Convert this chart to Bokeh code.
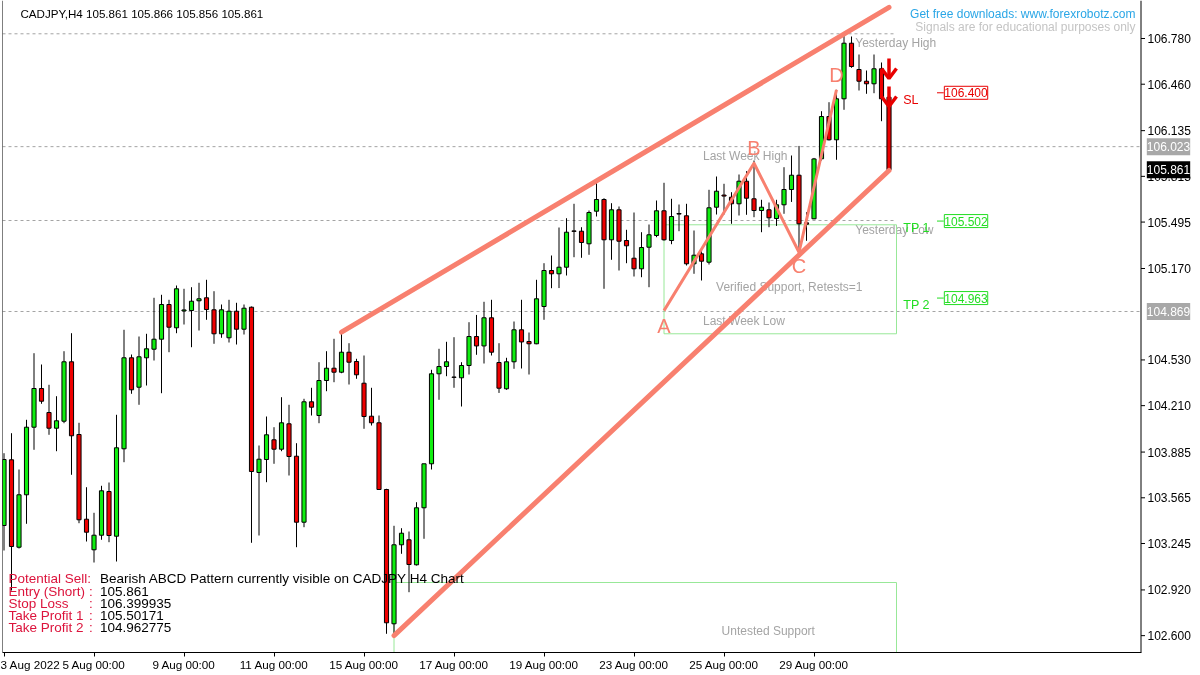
from bokeh.plotting import figure
from bokeh.models import Range1d, LinearAxis, FixedTicker, Label, Span
from bokeh.core.properties import value
from bokeh.embed import file_html
from bokeh.resources import INLINE

# ---------------- data ----------------
opens = [103.371, 103.831, 103.219, 103.586, 104.059, 104.330, 104.162, 104.052, 104.101, 104.517,
         104.008, 103.415, 103.201, 103.303, 103.609, 103.296, 103.908, 104.545, 104.339, 104.545,
         104.605, 104.675, 104.918, 104.755, 104.873, 104.876, 104.944, 104.965, 104.881, 104.713,
         104.685, 104.871, 104.745, 104.899, 103.742, 103.833, 103.971, 103.905, 104.083, 103.856,
         103.394, 104.237, 104.141, 104.386, 104.472, 104.444, 104.584, 104.519, 104.367, 104.136,
         104.090, 103.623, 102.683, 103.236, 103.271, 103.096, 103.495, 103.803, 104.433, 104.484,
         104.410, 104.405, 104.491, 104.694, 104.628, 104.825, 104.512, 104.328, 104.517, 104.741,
         104.659, 104.643, 104.904, 105.156, 105.133, 105.179, 105.433, 105.431, 105.343, 105.571,
         105.653, 105.371, 105.581, 105.366, 105.242, 105.168, 105.319, 105.401, 105.574, 105.366,
         105.555, 105.539, 105.203, 105.273, 105.214, 105.599, 105.684, 105.669, 105.623, 105.781,
         105.658, 105.576, 105.581, 105.520, 105.616, 105.723, 105.823, 105.490, 105.518, 105.938,
         106.234, 106.071, 106.358, 106.747, 106.563, 106.481, 106.463, 106.568, 106.369]
highs = [103.877, 104.017, 103.763, 104.111, 104.577, 104.498, 104.356, 104.276, 104.591, 104.717,
         104.090, 103.639, 103.460, 103.649, 103.672, 104.146, 104.741, 104.568, 104.694, 104.713,
         104.965, 104.986, 104.951, 105.051, 105.028, 105.039, 105.070, 105.091, 105.011, 104.918,
         104.951, 104.930, 104.918, 104.904, 103.931, 104.134, 104.059, 104.269, 104.216, 103.947,
         104.258, 104.335, 104.514, 104.591, 104.678, 104.724, 104.647, 104.538, 104.561, 104.335,
         104.141, 103.628, 103.369, 103.352, 103.329, 103.534, 103.803, 104.461, 104.608, 104.657,
         104.689, 104.514, 104.794, 104.845, 104.937, 104.951, 104.647, 104.545, 104.799, 104.951,
         104.722, 105.091, 105.207, 105.261, 105.457, 105.522, 105.623, 105.459, 105.576, 105.786,
         105.662, 105.627, 105.604, 105.441, 105.562, 105.424, 105.478, 105.646, 105.770, 105.658,
         105.618, 105.623, 105.436, 105.308, 105.721, 105.814, 105.763, 105.704, 105.828, 105.851,
         105.926, 105.651, 105.632, 105.651, 105.879, 105.961, 106.028, 105.564, 105.944, 106.271,
         106.334, 106.421, 106.801, 106.794, 106.668, 106.556, 106.668, 106.612, 106.416]
lows = [103.196, 102.916, 103.210, 103.383, 103.901, 104.223, 104.006, 103.891, 104.087, 103.726,
        103.387, 103.259, 103.112, 103.271, 103.254, 103.119, 103.814, 104.293, 104.216, 104.351,
        104.526, 104.297, 104.584, 104.717, 104.778, 104.619, 104.736, 104.811, 104.643, 104.685,
        104.652, 104.638, 104.708, 103.250, 103.301, 103.674, 103.803, 103.891, 103.721, 103.219,
        103.359, 104.141, 104.087, 104.311, 104.374, 104.437, 104.358, 104.398, 104.048, 104.071,
        103.621, 102.613, 102.613, 103.173, 102.904, 103.091, 103.278, 103.763, 104.251, 104.416,
        104.335, 104.204, 104.428, 104.566, 104.505, 104.561, 104.299, 104.321, 104.468, 104.470,
        104.428, 104.640, 104.811, 105.032, 105.033, 105.121, 105.249, 105.245, 105.266, 105.534,
        105.028, 105.231, 105.156, 105.207, 105.114, 105.109, 105.039, 105.389, 105.365, 105.340,
        105.431, 105.191, 105.133, 105.086, 105.198, 105.548, 105.548, 105.483, 105.541, 105.546,
        105.529, 105.424, 105.459, 105.468, 105.553, 105.636, 105.284, 105.364, 105.515, 105.926,
        106.066, 105.931, 106.281, 106.575, 106.416, 106.393, 106.397, 106.201, 105.856]
closes = [103.833, 103.224, 103.586, 104.059, 104.330, 104.241, 104.052, 104.104, 104.517, 103.999,
          103.411, 103.324, 103.303, 103.614, 103.301, 103.915, 104.545, 104.321, 104.552, 104.608,
          104.675, 104.918, 104.759, 105.028, 104.880, 104.941, 104.958, 104.883, 104.713, 104.881,
          104.871, 104.745, 104.892, 103.749, 103.835, 104.006, 103.905, 104.090, 103.854, 103.394,
          104.237, 104.199, 104.386, 104.472, 104.444, 104.584, 104.514, 104.426, 104.134, 104.090,
          103.623, 102.690, 103.236, 103.317, 103.098, 103.495, 103.803, 104.433, 104.484, 104.517,
          104.408, 104.491, 104.694, 104.628, 104.825, 104.584, 104.332, 104.517, 104.741, 104.656,
          104.643, 104.958, 105.156, 105.133, 105.179, 105.424, 105.430, 105.352, 105.562, 105.653,
          105.371, 105.581, 105.361, 105.329, 105.168, 105.317, 105.406, 105.574, 105.371, 105.534,
          105.551, 105.203, 105.263, 105.221, 105.595, 105.711, 105.677, 105.623, 105.781, 105.662,
          105.576, 105.599, 105.525, 105.616, 105.723, 105.823, 105.483, 105.480, 105.937, 106.234,
          106.071, 106.358, 106.747, 106.584, 106.481, 106.463, 106.568, 106.358, 105.861]

date_ticks = [0, 12, 24, 36, 48, 60, 72, 84, 96, 108]
date_labels = ["3 Aug 2022", "5 Aug 00:00", "9 Aug 00:00", "11 Aug 00:00", "15 Aug 00:00",
               "17 Aug 00:00", "19 Aug 00:00", "23 Aug 00:00", "25 Aug 00:00", "29 Aug 00:00"]
price_ticks = [106.780, 106.460, 106.135, 105.815, 105.495, 105.170,
               104.530, 104.210, 103.885, 103.565, 103.245, 102.920, 102.600]

header = "CADJPY,H4  105.861 105.866 105.856 105.861"
level_names = ["Yesterday High", "Last Week High", "Yesterday Low", "Last Week Low"]
level_prices = [106.813, 106.023, 105.506, 104.869]
level_label_bars = [113.5, 93.2, 113.5, 93.2]

zone_names = ["Verified Support, Retests=1", "Untested Support"]
zone_left = [88, 52]
zone_right = [119, 119]
zone_top = [105.476, 102.972]
zone_bottom = [104.713, 102.30]
zone_text_bar = [104.7, 101.9]
zone_text_price = [105.039, 102.636]

channel_upper_bars = [45, 118]
channel_upper_prices = [104.724, 106.998]
channel_lower_bars = [52, 118]
channel_lower_prices = [102.600, 105.856]

abcd_names = ["A", "B", "C", "D"]
abcd_bars = [88, 100, 106, 111]
abcd_prices = [104.875, 105.907, 105.284, 106.421]

order_names = ["SL", "TP 1", "TP 2"]
order_prices = [106.400, 105.502, 104.963]
order_texts = ["106.400", "105.502", "104.963"]

axis_marks = [106.023, 105.861, 104.869]
axis_mark_texts = ["106.023", "105.861", "104.869"]

arrow_bars = [118, 118]
arrow_prices = [106.500, 106.304]

info_names = ["Potential Sell:", "Entry (Short)", "Stop Loss", "Take Profit 1", "Take Profit 2"]
info_values = ["Bearish ABCD Pattern currently visible on CADJPY H4 Chart",
               "105.861", "106.399935", "105.50171", "104.962775"]

# ---------------- styling ----------------
FONT = "Liberation Sans"
SALMON = "#F8806F"
BULL = "#10EE10"
BEAR = "#EE0000"
GRAY = "#A4A4A4"
ZONE = "#98E898"

X0 = -0.2               # left edge of the chart
AXIS_X = 151.6          # bar position of the price scale line (chart shift area ends here)
BAR_PX = 7.5            # pixels per bar

p = figure(width=1200, height=675, output_backend="svg", toolbar_location=None,
           x_range=Range1d(X0, X0 + 1198 / BAR_PX), y_range=Range1d(102.482, 107.046),
           x_axis_location=None, y_axis_location=None,
           min_border_left=2, min_border_right=0, min_border_top=0, min_border_bottom=23,
           background_fill_color="white", border_fill_color="white", outline_line_color=None,
           styles={"position": "fixed", "left": "0px", "top": "0px"})
p.xgrid.visible = False
p.ygrid.visible = False

# time axis
xaxis = LinearAxis(ticker=FixedTicker(ticks=date_ticks, minor_ticks=[]),
                   major_label_overrides={t: l for t, l in zip(date_ticks, date_labels)},
                   bounds=(X0, AXIS_X))
xaxis.major_label_text_align = "left"
xaxis.major_tick_in = 0
xaxis.major_tick_out = 4
xaxis.minor_tick_in = 0
xaxis.minor_tick_out = 0
xaxis.major_label_standoff = 1
xaxis.major_label_text_font = FONT
xaxis.major_label_text_font_size = "11.7px"
xaxis.major_label_text_color = "black"
xaxis.axis_line_color = "black"
xaxis.major_tick_line_color = "black"
p.add_layout(xaxis, "below")

# chart borders and price scale
p.add_layout(Span(location=X0, dimension="height", line_color="black", line_width=1))
p.add_layout(Span(location=AXIS_X, dimension="height", line_color="black", line_width=1))
nt = len(price_ticks)
p.segment(x0=[AXIS_X] * nt, x1=[AXIS_X + 4 / BAR_PX] * nt, y0=price_ticks, y1=price_ticks,
          line_color="black", line_width=1)
p.text(x=[AXIS_X + 6.5 / BAR_PX] * nt, y=price_ticks, text=[f"{v:.3f}" for v in price_ticks],
       text_font=value(FONT), text_font_size="12px", text_color="black",
       text_baseline="middle", text_align="left")

# level lines
for name, price in zip(level_names, level_prices):
    x_end = AXIS_X if "Week" in name else 118.6
    p.segment(x0=[X0], x1=[x_end], y0=[price], y1=[price],
              line_color=GRAY, line_width=1, line_dash="3 3")
p.text(x=level_label_bars, y=level_prices, text=level_names, text_font=value(FONT),
       text_font_size="12px", text_color=GRAY, text_baseline="top", y_offset=2)

# zones
p.quad(left=zone_left, right=zone_right, top=zone_top, bottom=zone_bottom,
       fill_color=None, line_color=ZONE, line_width=1)
p.text(x=zone_text_bar, y=zone_text_price, text=zone_names, text_font=value(FONT),
       text_font_size="12px", text_color=GRAY, text_align="center", text_baseline="middle")

# candles
n = len(opens)
idx = list(range(n))
p.segment(x0=idx, x1=idx, y0=lows, y1=highs, line_color="black", line_width=1)
up = [i for i in idx if closes[i] >= opens[i]]
dn = [i for i in idx if closes[i] < opens[i]]
p.vbar(x=up, width=0.55, top=[closes[i] for i in up], bottom=[opens[i] for i in up],
       fill_color=BULL, line_color="black", line_width=1)
p.vbar(x=dn, width=0.55, top=[opens[i] for i in dn], bottom=[closes[i] for i in dn],
       fill_color=BEAR, line_color="black", line_width=1)

# channel and pattern
p.line(channel_upper_bars, channel_upper_prices, line_color=SALMON, line_width=5, line_cap="round")
p.line(channel_lower_bars, channel_lower_prices, line_color=SALMON, line_width=5, line_cap="round")
p.line(abcd_bars, abcd_prices, line_color=SALMON, line_width=3, line_join="round")
p.text(x=abcd_bars, y=abcd_prices, text=abcd_names, text_font=value(FONT), text_font_size="20px",
       text_color=SALMON, text_align="center", text_baseline="middle",
       y_offset=[15, -15, 14, -15])

# sell arrows
for b, pr in zip(arrow_bars, arrow_prices):
    p.multi_line(xs=[[b, b], [b - 1.0, b, b + 1.0]],
                 ys=[[pr + 0.14, pr], [pr + 0.07, pr, pr + 0.07]],
                 line_color="#E80000", line_width=3.5)

# SL / TP markers
order_colors = ["#E80000", "#22DD22", "#22DD22"]
p.text(x=[119.9] * 3, y=order_prices, text=order_names, text_font=value(FONT),
       text_font_size="12.5px", text_color=order_colors, text_baseline="middle", y_offset=7)
p.segment(x0=[124.4] * 3, x1=[125.3] * 3, y0=order_prices, y1=order_prices,
          line_color=order_colors, line_width=1)
for pr, t, c in zip(order_prices, order_texts, order_colors):
    p.add_layout(Label(x=128.27, y=pr, text=t, text_align="center", text_baseline="middle",
                       text_font=FONT, text_font_size="12px", text_color=c,
                       border_line_color=c, background_fill_color="white", padding=(0, 2)))

# price marks on the scale
for pr, t, bg in zip(axis_marks, axis_mark_texts, ["#A8A8A8", "black", "#A8A8A8"]):
    p.add_layout(Label(x=AXIS_X + 27.5 / BAR_PX, y=pr, text=t, text_align="center",
                       text_baseline="middle", text_font=FONT, text_font_size="12px",
                       text_color="white", background_fill_color=bg, padding=(0, 4)))

# corner texts
p.add_layout(Label(x=18, y=639.3, x_units="screen", y_units="screen", text=header,
                   text_font=FONT, text_font_size="11.6px", text_color="black",
                   text_baseline="middle"))
p.add_layout(Label(x=1133, y=638.7, x_units="screen", y_units="screen",
                   text="Get free downloads: www.forexrobotz.com", text_align="right",
                   text_font=FONT, text_font_size="12px", text_color="#2AA6E6",
                   text_baseline="middle"))
p.add_layout(Label(x=1133, y=625.3, x_units="screen", y_units="screen",
                   text="Signals are for educational purposes only", text_align="right",
                   text_font=FONT, text_font_size="12px", text_color="#C4C4C4",
                   text_baseline="middle"))

info_y = [73.7, 61.4, 49.3, 37.5, 25.4]
for k, (nm, val) in enumerate(zip(info_names, info_values)):
    p.add_layout(Label(x=6, y=info_y[k], x_units="screen", y_units="screen", text=nm,
                       text_font=FONT, text_font_size="13.5px", text_color="#DC143C",
                       text_baseline="middle"))
    if k > 0:
        p.add_layout(Label(x=86.5, y=info_y[k], x_units="screen", y_units="screen", text=":",
                           text_font=FONT, text_font_size="13.5px", text_color="#DC143C",
                           text_baseline="middle"))
    p.add_layout(Label(x=97.5, y=info_y[k], x_units="screen", y_units="screen", text=val,
                       text_font=FONT, text_font_size="13.5px", text_color="black",
                       text_baseline="middle"))

open("out.html", "w").write(file_html(p, INLINE))
